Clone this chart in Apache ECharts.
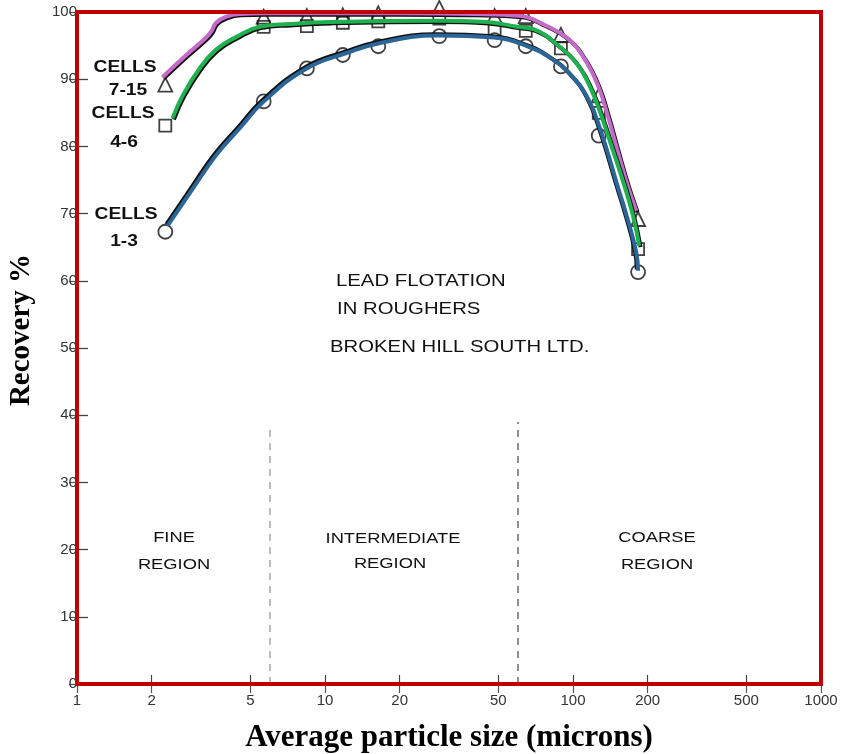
<!DOCTYPE html>
<html>
<head>
<meta charset="utf-8">
<script src="https://cdn.jsdelivr.net/npm/echarts@6/dist/echarts.min.js"></script>
<style>
  html, body { margin: 0; background: #fff; }
  #chart { width: 849px; height: 754px; }
</style>
</head>
<body>
<div id="chart"></div>
<script>
// particle sizes (microns) where the test points sit
const sizes = [2.27, 5.66, 8.45, 11.8, 16.4, 28.9, 48.3, 64.5, 89.4, 127, 183];
// recovery % at those sizes
const cells7to15 = [89.2, 99.3, 99.4, 99.5, 99.8, 100.6, 99.4, 99.4, 96.6, 87.6, 69.2];
const cells4to6 = [83.1, 97.8, 97.9, 98.4, 98.6, 99.0, 97.3, 97.2, 94.6, 85.0, 64.7];
const cells1to3 = [67.3, 86.7, 91.6, 93.6, 94.9, 96.4, 95.8, 94.9, 91.9, 81.6, 61.3];

// traced (coloured) curves
const curve7X = [2.21, 2.76, 3.32, 3.48, 3.64, 4.0, 4.53, 5.8, 10, 20, 40, 61.6, 76.5, 95, 111, 126, 138, 149, 166, 180];
const curve7Y = [90.3, 93.6, 96.2, 97.1, 98.4, 99.3, 99.7, 99.8, 99.8, 99.8, 99.7, 99.4, 98.1, 96.1, 93.1, 89.1, 84.6, 80.2, 74.2, 70.4];
const curve4X = [2.43, 2.67, 3.12, 3.64, 4.39, 5.45, 7.2, 10.5, 28.3, 45, 59.7, 69.7, 86.6, 104.5, 118, 130, 142.5, 161, 174.5, 185];
const curve4Y = [84.2, 87.6, 91.6, 94.4, 96.3, 97.8, 98.2, 98.5, 98.7, 98.5, 97.8, 97.4, 95.1, 92.1, 88.6, 84.6, 80.2, 74.2, 69.7, 65.2];
const curve1X = [2.32, 2.93, 3.64, 4.53, 5.63, 8.43, 12.2, 16.7, 28.3, 48, 65.5, 81.5, 98.2, 115, 130, 151, 166, 180, 183];
const curve1Y = [68.2, 73.7, 78.7, 82.7, 86.6, 91.6, 93.9, 95.4, 96.5, 96.2, 94.9, 93.1, 90.6, 87.1, 82.1, 74.2, 69.2, 64.2, 61.5];

// region boundaries
const boundarySizes = [6, 60];
const boundaryTop = [38.6, 39];

const tickSizes = [1, 2, 5, 10, 20, 50, 100, 200, 500, 1000];

const lg = v => Math.log10(v);
const pairs = (xs, ys) => xs.map((x, i) => [lg(x), ys[i]]);

const chart = echarts.init(document.getElementById('chart'));

const sans = 'Liberation Sans';
const serif = 'Liberation Serif';

function curve(name, xs, ys, color, dx, dy) {
  return {
    name: name,
    type: 'line',
    data: pairs(xs, ys),
    smooth: 0.45,
    showSymbol: false,
    clip: false,
    z: 3,
    lineStyle: {
      color: color, width: 4,
      shadowColor: '#111', shadowBlur: 0, shadowOffsetX: dx, shadowOffsetY: dy
    }
  };
}

function points(name, ys, symbol, size) {
  return {
    name: name,
    type: 'scatter',
    data: pairs(sizes, ys),
    symbol: symbol,
    symbolSize: size,
    clip: false,
    z: 1,
    itemStyle: { color: 'rgba(255,255,255,0)', borderColor: '#111', borderWidth: 1.8 }
  };
}

const boundaries = boundarySizes.map((s, i) => ({
  type: 'line',
  data: [[lg(s), 0], [lg(s), boundaryTop[i]]],
  showSymbol: false,
  z: 1,
  lineStyle: { color: i === 0 ? '#999' : '#555', width: 1.3, type: [7, 6] }
}));

function label(text, x, y, opts) {
  opts = opts || {};
  return {
    type: 'text',
    x: x, y: y,
    scaleX: opts.scaleX || 1.22,
    rotation: opts.rotation || 0,
    z: 10,
    style: {
      text: text,
      fontFamily: opts.family || sans,
      fontSize: opts.size || 15,
      fontWeight: opts.weight || 'normal',
      fill: opts.color || '#111',
      textAlign: opts.align || 'center',
      textVerticalAlign: 'middle'
    }
  };
}

const tickVals = tickSizes.map(lg);

const option = {
  animation: false,
  grid: {
    left: 77, right: 28, top: 12, bottom: 70,
    show: true, z: 5,
    backgroundColor: 'rgba(0,0,0,0)',
    borderColor: '#c00000', borderWidth: 4,
    outerBoundsMode: 'none'
  },
  xAxis: [{
    type: 'value', min: 0, max: 3, position: 'bottom',
    axisLine: { show: false },
    splitLine: { show: false },
    axisTick: { inside: true, length: 9, customValues: tickVals, lineStyle: { color: '#444', width: 1.2 } },
    axisLabel: {
      customValues: tickVals,
      formatter: v => String(Math.round(Math.pow(10, v))),
      color: '#333', fontSize: 15, fontFamily: sans, margin: 9
    },
    name: 'Average particle size (microns)',
    nameLocation: 'middle', nameGap: 38,
    nameTextStyle: { fontFamily: serif, fontWeight: 'bold', fontSize: 31, color: '#000' }
  }, {
    type: 'value', min: 0, max: 3, position: 'top',
    axisLine: { show: false },
    splitLine: { show: false },
    axisTick: { inside: true, length: 9, customValues: tickVals, lineStyle: { color: '#555', width: 1.2 } },
    axisLabel: { show: false }
  }],
  yAxis: [{
    type: 'value', min: 0, max: 100, interval: 10,
    axisLine: { show: false },
    splitLine: { show: false },
    axisTick: { inside: true, length: 11, lineStyle: { color: '#444', width: 1.3 } },
    axisLabel: { color: '#333', fontSize: 15, fontFamily: sans, margin: 0 }
  }, {
    type: 'value', min: 0, max: 100, interval: 10, position: 'right',
    axisLine: { show: false },
    splitLine: { show: false },
    axisTick: { inside: true, length: 8, lineStyle: { color: '#555', width: 1.2 } },
    axisLabel: { show: false }
  }],
  series: [
    ...boundaries,
    points('Cells 7-15', cells7to15, 'triangle', 14),
    points('Cells 4-6', cells4to6, 'rect', 12),
    points('Cells 1-3', cells1to3, 'circle', 14),
    curve('Cells 7-15 curve', curve7X, curve7Y, '#c46ac9', 1.3, 1.3),
    curve('Cells 4-6 curve', curve4X, curve4Y, '#1fb04f', 1.3, 1.3),
    curve('Cells 1-3 curve', curve1X, curve1Y, '#2c6698', -1.3, -1.3)
  ],
  graphic: [
    label('Recovery %', 22, 330, { family: serif, size: 29, weight: 'bold', scaleX: 1, rotation: Math.PI / 2, color: '#000' }),
    label('CELLS', 125, 68, { size: 16, weight: 'bold', scaleX: 1.2 }),
    label('7-15', 128, 91, { size: 16, weight: 'bold', scaleX: 1.2 }),
    label('CELLS', 123, 114, { size: 16, weight: 'bold', scaleX: 1.2 }),
    label('4-6', 124, 143, { size: 16, weight: 'bold', scaleX: 1.2 }),
    label('CELLS', 126, 215, { size: 16, weight: 'bold', scaleX: 1.2 }),
    label('1-3', 124, 242, { size: 16, weight: 'bold', scaleX: 1.2 }),
    label('LEAD FLOTATION', 336, 282, { size: 16, align: 'left', scaleX: 1.27 }),
    label('IN ROUGHERS', 337, 310, { size: 16, align: 'left', scaleX: 1.27 }),
    label('BROKEN HILL SOUTH LTD.', 330, 348, { size: 16, align: 'left', scaleX: 1.27 }),
    label('FINE', 174, 538),
    label('REGION', 174, 565),
    label('INTERMEDIATE', 393, 539),
    label('REGION', 390, 564),
    label('COARSE', 657, 538),
    label('REGION', 657, 565)
  ]
};

chart.setOption(option);
</script>
</body>
</html>
